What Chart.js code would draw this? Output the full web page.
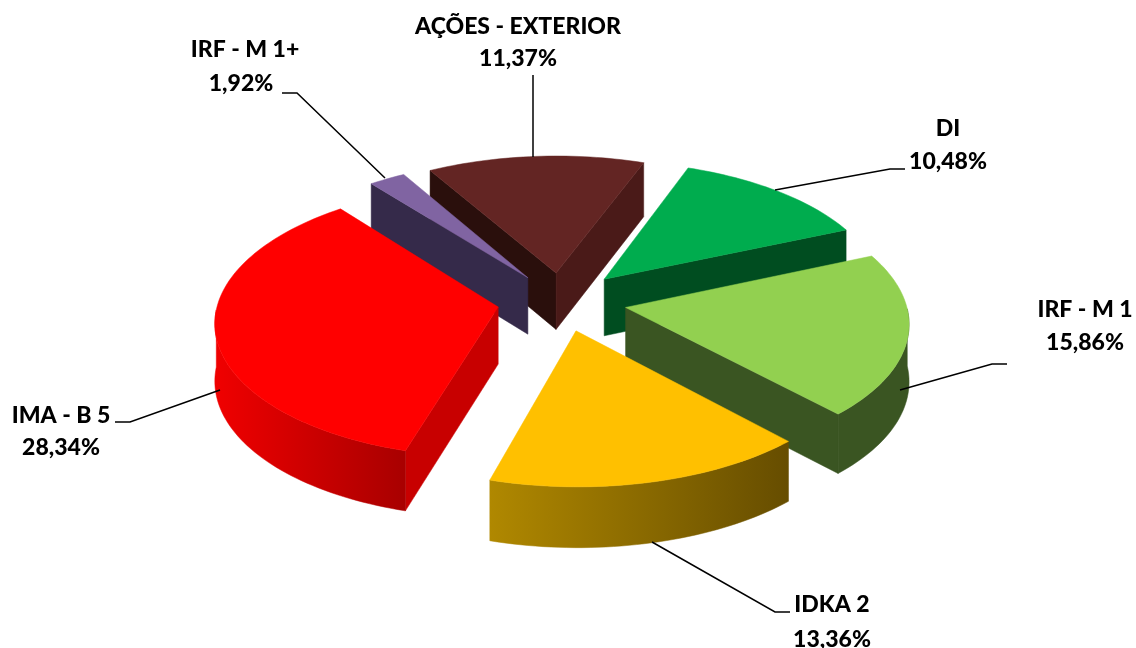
<!DOCTYPE html>
<html>
<head>
<meta charset="utf-8">
<title>Carteira</title>
<script src="https://cdn.jsdelivr.net/npm/chart.js@4"></script>
<style>
  html, body { margin: 0; padding: 0; background: #fff; }
  canvas { display: block; }
</style>
</head>
<body>
<canvas id="pie" width="1136" height="648"></canvas>
<script>
// === Data ===
const categories = ["AÇÕES - EXTERIOR", "DI", "IRF - M 1", "IDKA 2", "IMA - B 5", "IRF - M 1+"];
const shares = [11.37, 10.48, 15.86, 13.36, 28.34, 1.92];

// === Slice colours: top, start face, end face, outer wall left/right ===
const topColors = ["#632523", "#00ac4e", "#92d050", "#ffc000", "#ff0000", "#8064a2"];
const startFace = ["#2a0f0c", "#003d18", "#3a5522", "#7a5c00", "#c80000", "#352a4a"];
const endFace = ["#4a1a18", "#004d20", "#3a5522", "#6b5000", "#c80000", "#352a4a"];
const wallLeft = ["#4a1a18", "#004d20", "#3a5522", "#b08800", "#f00000", "#352a4a"];
const wallRight = ["#4a1a18", "#004d20", "#3a5522", "#664d00", "#a80000", "#352a4a"];

// how far each slice is pulled out of the pie
const explode = [62, 66, 68, 65, 66, 62];

// === Label layout: [name x, name y, value x, value y] and leader polyline ===
const labelPos = [
  [518, 27, 518, 59],
  [948, 129, 948, 162],
  [1085, 310, 1085, 343],
  [832, 605, 832, 640],
  [61, 416, 61, 448],
  [245, 50, 241, 84]
];
const leaders = [
  [[533, 75], [533, 157]],
  [[775, 190], [890, 169], [905, 169]],
  [[900, 390], [992, 364], [1007, 364]],
  [[652, 542], [775, 612], [790, 612]],
  [[220, 390], [130, 422], [115, 422]],
  [[385, 178], [297, 93], [282, 93]]
];

// === Fake 3D view of the pie plane ===
const view = { cx: 561, cy: 301, rx: 280, ry: 134, k: 0.1, depth: 57 };

function project(x, y) {
  const s = 1 / (1 - view.k * y);
  return { x: view.cx + view.rx * x * s, y: view.cy + view.ry * y * s, h: view.depth * Math.sqrt(s) };
}

function poly(ctx, pts, fill) {
  ctx.beginPath();
  pts.forEach((p, i) => (i ? ctx.lineTo(p.x, p.y) : ctx.moveTo(p.x, p.y)));
  ctx.closePath();
  ctx.fillStyle = fill;
  ctx.fill();
  ctx.strokeStyle = fill;
  ctx.lineWidth = 0.5;
  ctx.stroke();
}

function down(p) {
  return { x: p.x, y: p.y + p.h };
}

// draw each arc element of the pie as a tilted, extruded wedge
const pie3d = {
  id: "pie3d",
  beforeDatasetsDraw(chart) {
    const ctx = chart.ctx;
    const arcs = chart.getDatasetMeta(0).data.map((arc, i) => {
      const a0 = arc.startAngle, a1 = arc.endAngle, mid = (a0 + a1) / 2;
      const off = arc.options.offset / arc.outerRadius;
      const ox = off * Math.cos(mid), oy = off * Math.sin(mid);
      const rim = [], front = [];
      const steps = Math.ceil((a1 - a0) * 40);
      for (let n = 0; n <= steps; n++) {
        const a = a0 + (a1 - a0) * n / steps;
        const p = project(ox + Math.cos(a), oy + Math.sin(a));
        rim.push(p);
        if (Math.sin(a) > 0) front.push(p);
      }
      return { i, a0, a1, apex: project(ox, oy), rim, front, order: Math.sin(mid) };
    });
    arcs.sort((a, b) => a.order - b.order);
    arcs.forEach(({ i, a0, a1, apex, rim, front }) => {
      const first = rim[0], last = rim[rim.length - 1];
      // only the walls turned towards the viewer
      if (Math.sin(a0 - Math.PI / 2) > 0) poly(ctx, [apex, first, down(first), down(apex)], startFace[i]);
      if (Math.sin(a1 + Math.PI / 2) > 0) poly(ctx, [apex, last, down(last), down(apex)], endFace[i]);
      if (front.length > 1) {
        const xs = front.map(p => p.x);
        const grad = ctx.createLinearGradient(Math.min(...xs), 0, Math.max(...xs), 0);
        grad.addColorStop(0, wallLeft[i]);
        grad.addColorStop(1, wallRight[i]);
        poly(ctx, front.concat(front.map(down).reverse()), grad);
      }
      poly(ctx, [apex].concat(rim), topColors[i]);
    });
    return false;
  },
  afterDraw(chart) {
    const ctx = chart.ctx;
    ctx.save();
    ctx.strokeStyle = "#000";
    ctx.lineWidth = 1.5;
    leaders.forEach(line => {
      ctx.beginPath();
      line.forEach((p, i) => (i ? ctx.lineTo(p[0], p[1]) : ctx.moveTo(p[0], p[1])));
      ctx.stroke();
    });
    ctx.fillStyle = "#000";
    ctx.font = "900 23px Lato";
    ctx.textAlign = "center";
    ctx.textBaseline = "middle";
    categories.forEach((name, i) => {
      const pos = labelPos[i];
      ctx.fillText(name, pos[0], pos[1]);
      ctx.fillText(shares[i].toFixed(2).replace(".", ",") + "%", pos[2], pos[3]);
    });
    ctx.restore();
  }
};

new Chart(document.getElementById("pie"), {
  type: "pie",
  data: {
    labels: categories,
    datasets: [{ data: shares, backgroundColor: topColors, offset: explode, borderWidth: 0 }]
  },
  options: {
    responsive: false,
    animation: false,
    rotation: -30,
    plugins: { legend: { display: false }, tooltip: { enabled: false } }
  },
  plugins: [pie3d]
});
</script>
</body>
</html>
